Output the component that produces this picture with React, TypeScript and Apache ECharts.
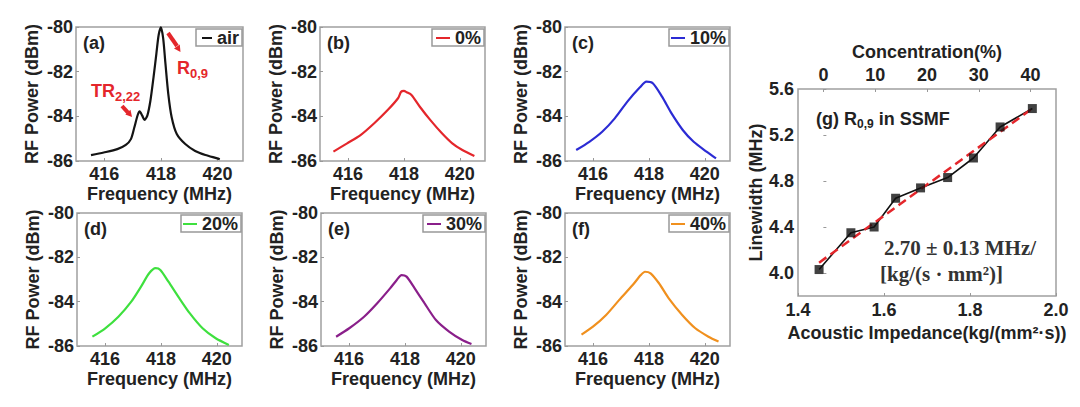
import React, { useEffect, useRef } from "react";
import * as echarts from "echarts";

// ---------- data ----------
const freqTicks = [416, 418, 420];
const seriesNames = ["air", "0%", "10%", "20%", "30%", "40%"];
const panelLabels = ["(a)", "(b)", "(c)", "(d)", "(e)", "(f)"];
const seriesColors = ["#141414", "#e4262b", "#2b2bd4", "#3ee03e", "#8a1f8a", "#f0901e"];

const airFreq = [415.53, 415.98, 416.46, 416.76, 416.94, 417.06, 417.18, 417.25, 417.34, 417.42, 417.52, 417.63, 417.74, 417.84, 417.92, 418.0, 418.08, 418.16, 418.26, 418.38, 418.56, 418.86, 419.21, 419.57, 419.99, 420.08];
const airPower = [-85.74, -85.62, -85.47, -85.28, -85.02, -84.5, -83.94, -83.78, -83.97, -84.16, -83.97, -83.29, -82.24, -81.19, -80.36, -80.02, -80.51, -81.64, -82.99, -84.04, -84.79, -85.24, -85.55, -85.73, -85.88, -85.92];

const c0Freq = [415.48, 415.97, 416.45, 416.94, 417.42, 417.79, 417.9, 418.0, 418.1, 418.27, 418.57, 418.94, 419.36, 419.73, 420.09, 420.52];
const c0Power = [-85.58, -85.21, -84.84, -84.31, -83.72, -83.19, -82.9, -82.86, -82.92, -83.04, -83.57, -84.16, -84.76, -85.21, -85.51, -85.78];

const c10Freq = [415.4, 415.87, 416.33, 416.78, 417.23, 417.68, 417.91, 418.14, 418.47, 418.81, 419.21, 419.6, 420.06, 420.4];
const c10Power = [-85.51, -85.14, -84.69, -84.09, -83.34, -82.7, -82.45, -82.52, -83.12, -83.87, -84.61, -85.14, -85.58, -85.88];

const c20Freq = [415.55, 416.01, 416.48, 416.94, 417.29, 417.58, 417.81, 417.98, 418.27, 418.62, 419.03, 419.49, 419.96, 420.43];
const c20Power = [-85.58, -85.2, -84.68, -84.0, -83.32, -82.72, -82.49, -82.57, -83.1, -83.77, -84.52, -85.2, -85.65, -85.95];

const c30Freq = [415.54, 416.01, 416.54, 417.01, 417.47, 417.71, 417.88, 418.06, 418.35, 418.7, 419.11, 419.58, 420.05, 420.38];
const c30Power = [-85.58, -85.2, -84.68, -84.07, -83.4, -83.02, -82.8, -82.87, -83.4, -84.07, -84.83, -85.35, -85.73, -85.91];

const c40Freq = [415.59, 416.0, 416.47, 416.94, 417.42, 417.71, 417.86, 418.06, 418.36, 418.71, 419.19, 419.66, 420.13, 420.49];
const c40Power = [-85.49, -85.13, -84.6, -83.92, -83.25, -82.8, -82.65, -82.72, -83.17, -83.85, -84.6, -85.2, -85.58, -85.8];

const spectraFreq = [airFreq, c0Freq, c10Freq, c20Freq, c30Freq, c40Freq];
const spectraPower = [airPower, c0Power, c10Power, c20Power, c30Power, c40Power];

const impedance = [1.449, 1.523, 1.577, 1.627, 1.685, 1.748, 1.808, 1.87, 1.945];
const linewidth = [4.03, 4.35, 4.4, 4.65, 4.74, 4.83, 5.0, 5.27, 5.43];
const fitImpedance = [1.449, 1.945];
const fitLinewidth = [4.09, 5.43];
const concentrationTicks = [0, 10, 20, 30, 40];
const linewidthTicks = [4.0, 4.4, 4.8, 5.2, 5.6];

// ---------- layout ----------
const W = 1080;
const FONT = "'Liberation Sans', Arial, sans-serif";
const SERIF = "'Liberation Serif', 'DejaVu Serif', serif";
const TXT = "#222";
const RED = "#e4262b";
const grids = [
  { left: 76, top: 27, width: 167, height: 134 },
  { left: 320, top: 27, width: 165, height: 134 },
  { left: 565, top: 27, width: 165, height: 134 },
  { left: 77, top: 213, width: 165, height: 133 },
  { left: 321, top: 213, width: 165, height: 133 },
  { left: 565, top: 213, width: 165, height: 133 },
  { left: 798, top: 89, width: 258, height: 207 },
];
const legendBoxWidths = [46, 52, 60, 60, 62, 60];

const labelStyle = { fontSize: 18, fontWeight: "bold", color: TXT, fontFamily: FONT };
const tickStyle = { inside: true, length: 3, lineStyle: { color: "#999" } };

function buildOption() {
  const xAxis: any[] = [];
  const yAxis: any[] = [];
  const series: any[] = [];
  const legend: any[] = [];
  const graphic: any[] = [];

  for (let i = 0; i < 6; i++) {
    xAxis.push({
      type: "value",
      gridIndex: i,
      min: 415,
      max: 420.9,
      axisLine: { show: false },
      splitLine: { show: false },
      axisTick: { ...tickStyle, customValues: freqTicks },
      axisLabel: { ...labelStyle, margin: 4, customValues: freqTicks },
      name: "Frequency (MHz)",
      nameLocation: "middle",
      nameGap: 24,
      nameTextStyle: labelStyle,
    });
    yAxis.push({
      type: "value",
      gridIndex: i,
      min: -86,
      max: -80,
      interval: 2,
      axisLine: { show: false },
      splitLine: { show: false },
      axisTick: tickStyle,
      axisLabel: { ...labelStyle, margin: 3 },
      name: "RF Power (dBm)",
      nameLocation: "middle",
      nameRotate: 90,
      nameGap: 35,
      nameTextStyle: labelStyle,
    });
    series.push({
      type: "line",
      name: seriesNames[i],
      xAxisIndex: i,
      yAxisIndex: i,
      data: spectraFreq[i].map((f, k) => [f, spectraPower[i][k]]),
      showSymbol: false,
      symbol: "none",
      smooth: 0.25,
      color: seriesColors[i],
      lineStyle: { color: seriesColors[i], width: 2.2 },
    });
    const g = grids[i];
    const gr = g.left + g.width;
    const bw = legendBoxWidths[i];
    graphic.push({
      type: "rect",
      z: 3,
      shape: { x: gr - 1 - bw, y: g.top + 2, width: bw, height: 17 },
      style: { fill: "#fff", stroke: "#999", lineWidth: 1.5 },
    });
    legend.push({
      data: [seriesNames[i]],
      right: W - gr + 4,
      top: g.top + 2,
      icon: "rect",
      itemWidth: i === 0 ? 10 : 14,
      itemHeight: 2,
      padding: 0,
      selectedMode: false,
      z: 10,
      textStyle: { fontSize: 18, fontWeight: "bold", color: TXT, fontFamily: FONT, lineHeight: 17 },
    });
    graphic.push({
      type: "text",
      x: g.left + 7,
      y: g.top + 16,
      style: { text: panelLabels[i], fontSize: 18, fontWeight: "bold", fontFamily: FONT, fill: TXT, verticalAlign: "middle" },
    });
  }

  // panel (g)
  xAxis.push({
    type: "value",
    gridIndex: 6,
    min: 1.4,
    max: 2.0,
    interval: 0.2,
    axisLine: { show: false },
    splitLine: { show: false },
    axisTick: tickStyle,
    axisLabel: { ...labelStyle, margin: 5, formatter: (v: number) => v.toFixed(1) },
    name: "Acoustic Impedance(kg/(mm²·s))",
    nameLocation: "middle",
    nameGap: 23,
    nameTextStyle: labelStyle,
  });
  xAxis.push({
    type: "value",
    gridIndex: 6,
    position: "top",
    min: -4.9,
    max: 44.9,
    axisLine: { show: false },
    splitLine: { show: false },
    axisTick: { ...tickStyle, customValues: concentrationTicks },
    axisLabel: { ...labelStyle, margin: 5, customValues: concentrationTicks },
    name: "Concentration(%)",
    nameLocation: "middle",
    nameGap: 23,
    nameTextStyle: labelStyle,
  });
  yAxis.push({
    type: "value",
    gridIndex: 6,
    min: 3.8,
    max: 5.6,
    axisLine: { show: false },
    splitLine: { show: false },
    axisTick: { ...tickStyle, customValues: linewidthTicks },
    axisLabel: { ...labelStyle, margin: 4, customValues: linewidthTicks, formatter: (v: number) => v.toFixed(1) },
    name: "Linewidth (MHz)",
    nameLocation: "middle",
    nameRotate: 90,
    nameGap: 30,
    nameTextStyle: labelStyle,
  });
  const gData = impedance.map((x, k) => [x, linewidth[k]]);
  series.push({
    type: "line",
    name: "Linewidth",
    xAxisIndex: 6,
    yAxisIndex: 6,
    data: gData,
    symbol: "none",
    color: "#111",
    lineStyle: { color: "#111", width: 1.6 },
    z: 2,
  });
  series.push({
    type: "line",
    name: "Linear fit",
    xAxisIndex: 6,
    yAxisIndex: 6,
    data: fitImpedance.map((x, k) => [x, fitLinewidth[k]]),
    symbol: "none",
    color: RED,
    lineStyle: { color: RED, width: 2.5, type: [9, 5] },
    z: 3,
  });
  series.push({
    type: "scatter",
    name: "Measured",
    xAxisIndex: 6,
    yAxisIndex: 6,
    data: gData,
    symbol: "rect",
    symbolSize: 9,
    itemStyle: { color: "#111" },
    z: 4,
  });

  // annotations panel (a)
  graphic.push(
    { type: "line", shape: { x1: 168, y1: 33, x2: 177, y2: 46 }, style: { stroke: RED, lineWidth: 4 } },
    { type: "polygon", shape: { points: [[180.5, 52], [179.8, 44.6], [174, 48.6]] }, style: { fill: RED } },
    { type: "line", shape: { x1: 122, y1: 106, x2: 128, y2: 112.7 }, style: { stroke: RED, lineWidth: 4 } },
    { type: "polygon", shape: { points: [[132, 117], [130.5, 109.7], [125.3, 114.4]] }, style: { fill: RED } },
    {
      type: "text",
      x: 177,
      y: 68,
      style: {
        text: "{m|R}{s|0,9}",
        verticalAlign: "middle",
        rich: {
          m: { fontSize: 18, fontWeight: "bold", fontFamily: FONT, fill: RED },
          s: { fontSize: 13, fontWeight: "bold", fontFamily: FONT, fill: RED, padding: [10, 0, 0, 0] },
        },
      },
    },
    {
      type: "text",
      x: 91,
      y: 91,
      style: {
        text: "{m|TR}{s|2,22}",
        verticalAlign: "middle",
        rich: {
          m: { fontSize: 18, fontWeight: "bold", fontFamily: FONT, fill: RED },
          s: { fontSize: 13, fontWeight: "bold", fontFamily: FONT, fill: RED, padding: [10, 0, 0, 0] },
        },
      },
    },
    {
      type: "text",
      x: 816,
      y: 119,
      style: {
        text: "{m|(g) R}{s|0,9}{m| in SSMF}",
        verticalAlign: "middle",
        rich: {
          m: { fontSize: 18, fontWeight: "bold", fontFamily: FONT, fill: TXT },
          s: { fontSize: 12, fontWeight: "bold", fontFamily: FONT, fill: TXT, padding: [10, 0, 0, 0] },
        },
      },
    },
    {
      type: "text",
      x: 884,
      y: 248,
      style: { text: "2.70 ± 0.13 MHz/", fontSize: 21, fontWeight: "bold", fontFamily: SERIF, fill: "#333", verticalAlign: "middle" },
    },
    {
      type: "text",
      x: 880,
      y: 274,
      style: { text: "[kg/(s · mm²)]", fontSize: 21, fontWeight: "bold", fontFamily: SERIF, fill: "#333", verticalAlign: "middle" },
    }
  );

  return {
    animation: false,
    backgroundColor: "#fff",
    grid: grids.map((g) => ({ ...g, show: true, borderColor: "#a0a0a0", borderWidth: 1.5, containLabel: false })),
    xAxis,
    yAxis,
    legend,
    series,
    graphic,
  };
}

export default function App() {
  const ref = useRef<HTMLDivElement>(null);
  useEffect(() => {
    if (!ref.current) return;
    const chart = echarts.init(ref.current, undefined, { renderer: "svg" });
    chart.setOption(buildOption() as any);
    return () => chart.dispose();
  }, []);
  return <div ref={ref} style={{ position: "fixed", left: 0, top: 0, width: 1080, height: 407, background: "#fff" }} />;
}
